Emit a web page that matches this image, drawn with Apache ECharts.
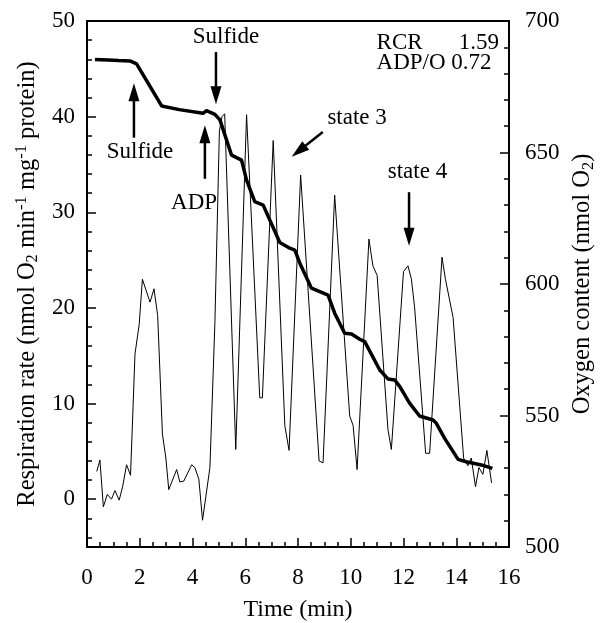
<!DOCTYPE html>
<html>
<head>
<meta charset="utf-8">
<script src="https://cdn.jsdelivr.net/npm/echarts@6/dist/echarts.min.js"></script>
<style>html,body{margin:0;padding:0;background:#fff}#c{width:603px;height:623px}</style>
</head>
<body>
<div id="c"></div>
<script>
// Respiration rate (left axis), nmol O2 min-1 mg-1 protein
const rateTime = [0.37,0.49,0.62,0.77,0.93,1.06,1.22,1.35,1.50,1.65,1.82,1.98,2.10,2.39,2.54,2.68,2.86,2.99,3.10,3.40,3.52,3.67,3.97,4.09,4.24,4.38,4.66,4.85,5.02,5.12,5.22,5.64,6.05,6.55,6.65,7.06,7.50,7.66,8.10,8.80,8.95,9.39,9.96,10.09,10.24,10.69,10.84,11.00,11.41,11.54,12.00,12.17,12.30,12.42,12.84,12.99,13.46,13.59,13.88,14.28,14.44,14.57,14.73,14.86,15.01,15.16,15.34];
const rateValue = [2.9,4.1,-0.8,0.5,0.0,0.9,-0.1,1.3,3.6,2.5,15.2,18.3,23.0,20.6,22.0,19.2,6.8,4.3,1.0,3.1,1.8,1.9,3.6,3.3,2.1,-2.2,3.3,18.5,38.5,40.0,40.3,5.2,40.2,10.6,10.6,37.5,7.7,5.1,33.9,4.0,3.8,31.8,8.7,7.7,3.1,27.2,24.4,23.4,7.3,5.2,23.8,24.4,23.0,20.1,4.8,4.8,25.3,23.0,19.0,4.3,3.5,4.3,1.3,3.3,2.6,5.1,1.7];
// Oxygen content (right axis), nmol O2
const oxyTime = [0.30,0.80,1.20,1.63,1.88,2.83,3.50,4.40,4.53,4.85,5.04,5.48,5.86,6.05,6.36,6.68,7.31,7.69,7.88,8.07,8.51,9.14,9.39,9.77,10.03,10.34,10.53,11.10,11.41,11.67,11.86,12.23,12.61,13.12,13.24,13.56,14.07,14.38,14.95,15.37];
const oxyValue = [685.4,685.2,685.0,684.8,683.7,667.7,666.3,664.9,665.9,664.5,662.4,649.0,647.1,639.5,631.3,630.0,615.8,613.6,612.9,607.9,598.4,595.8,588.9,581.3,581.0,579.0,578.1,567.3,563.9,563.5,561.0,554.7,549.8,548.3,547.1,541.3,533.3,532.4,531.2,529.9];
// Axis ticks
const xTicks = [0,2,4,6,8,10,12,14,16];
const xMinorTicks = [0.5,1,1.5,2.5,3,3.5,4.5,5,5.5,6.5,7,7.5,8.5,9,9.5,10.5,11,11.5,12.5,13,13.5,14.5,15,15.5];
const leftTicks = [0,10,20,30,40,50];
const leftMinorTicks = [-4,-2,2,4,6,8,12,14,16,18,22,24,26,28,32,34,36,38,42,44,46,48];
const rightTicks = [500,550,600,650,700];

const FONT = 'Liberation Serif';
const FS = 23;
const txt = {fontFamily: FONT, fontSize: FS, color: '#000'};
const titleTxt = {fontFamily: FONT, fontSize: 24.5, color: '#000'};

const chart = echarts.init(document.getElementById('c'), null, {renderer: 'canvas'});

function pairs(a, b) { return a.map((t, i) => [t, b[i]]); }

function lbl(x, y, text, align) {
  return {
    coord: [x, y], value: text,
    label: {show: true, formatter: text, position: 'inside', align: align || 'center', verticalAlign: 'middle', ...txt}
  };
}

chart.setOption({
  animation: false,
  backgroundColor: '#fff',
  grid: {left: 87, right: 94, top: 21, bottom: 76, show: true, borderColor: '#000', borderWidth: 2,
         containLabel: false, outerBoundsMode: 'none'},
  xAxis: [
    {
      type: 'value', min: 0, max: 16, interval: 2,
      name: 'Time (min)', nameLocation: 'middle', nameGap: 51, nameTextStyle: {...titleTxt, fontSize: 24},
      axisLine: {show: true, onZero: false, lineStyle: {color: '#000', width: 2}},
      axisTick: {show: true, inside: true, length: 9, customValues: xTicks, lineStyle: {color: '#000', width: 1.5}},
      axisLabel: {...txt, margin: 19, customValues: xTicks},
      splitLine: {show: false}
    },
    {
      type: 'value', min: 0, max: 16, interval: 2, position: 'bottom',
      axisLine: {show: false, onZero: false},
      axisTick: {show: true, inside: true, length: 5, customValues: xMinorTicks, lineStyle: {color: '#000', width: 1.5}},
      axisLabel: {show: false},
      splitLine: {show: false}
    }
  ],
  yAxis: [
    {
      type: 'value', min: -5, max: 50, interval: 5, position: 'left',
      name: 'Respiration rate (nmol O{sub|2} min{sup|-1} mg{sup|-1} protein)',
      nameLocation: 'middle', nameGap: 47, nameRotate: 90,
      nameTextStyle: {...titleTxt, padding: [0, 0, 0, 0], rich: {
        sub: {fontFamily: FONT, fontSize: 16.5, color: '#000', padding: [0, 0, -11, 0]},
        sup: {fontFamily: FONT, fontSize: 16.5, color: '#000', padding: [-11, 0, 0, 0]}
      }},
      axisLine: {show: true, onZero: false, lineStyle: {color: '#000', width: 2}},
      axisTick: {show: true, inside: true, length: 9, customValues: leftTicks, lineStyle: {color: '#000', width: 1.5}},
      axisLabel: {...txt, margin: 12, customValues: leftTicks},
      splitLine: {show: false}
    },
    {
      type: 'value', min: 500, max: 700, interval: 50, position: 'right',
      name: 'Oxygen content (nmol O{sub|2})',
      nameLocation: 'middle', nameGap: 60, nameRotate: 90,
      nameTextStyle: {...titleTxt, rich: {
        sub: {fontFamily: FONT, fontSize: 16.5, color: '#000', padding: [0, 0, -11, 0]}
      }},
      axisLine: {show: true, onZero: false, lineStyle: {color: '#000', width: 2}},
      axisTick: {show: true, inside: true, length: 9, lineStyle: {color: '#000', width: 1.5}},
      minorTick: {show: true, splitNumber: 5, length: 5, lineStyle: {color: '#000', width: 1.5}},
      axisLabel: {...txt, margin: 16, customValues: rightTicks},
      splitLine: {show: false}
    },
    {
      type: 'value', min: -5, max: 50, interval: 5, position: 'left',
      axisLine: {show: false, onZero: false},
      axisTick: {show: true, inside: true, length: 5, customValues: leftMinorTicks, lineStyle: {color: '#000', width: 1.5}},
      axisLabel: {show: false},
      splitLine: {show: false}
    }
  ],
  series: [
    {
      name: 'Respiration rate', type: 'line', xAxisIndex: 0, yAxisIndex: 0, symbol: 'none',
      lineStyle: {color: '#000', width: 1}, itemStyle: {color: '#000'}, z: 2,
      data: pairs(rateTime, rateValue),
      markPoint: {
        silent: true, symbol: 'circle', symbolSize: 1, itemStyle: {color: 'rgba(0,0,0,0)'},
        animation: false,
        data: [
          lbl(2.01, 36.3, 'Sulfide'),
          lbl(5.27, 48.3, 'Sulfide'),
          lbl(4.06, 31.0, 'ADP'),
          lbl(10.24, 39.9, 'state 3'),
          lbl(12.53, 34.2, 'state 4'),
          lbl(10.98, 47.7, 'RCR', 'left'),
          lbl(15.62, 47.7, '1.59', 'right'),
          lbl(10.98, 45.6, 'ADP/O 0.72', 'left')
        ]
      }
    },
    {
      name: 'Oxygen content', type: 'line', xAxisIndex: 0, yAxisIndex: 1, symbol: 'none',
      lineStyle: {color: '#000', width: 3.5}, itemStyle: {color: '#000'}, z: 3,
      data: pairs(oxyTime, oxyValue)
    }
  ]
});

// Annotation arrows: [tail] -> [tip], in (time, respiration rate) coordinates
const arrows = [
  [[1.78, 37.8], [1.78, 43.5]],
  [[4.89, 46.75], [4.89, 41.3]],
  [[4.47, 33.5], [4.47, 39.1]],
  [[8.94, 38.4], [7.76, 35.8]],
  [[12.21, 32.1], [12.21, 26.5]]
];
const headLen = 18, headHalf = 5.5;
const g = [];
arrows.forEach(a => {
  const p0 = chart.convertToPixel({xAxisIndex: 0, yAxisIndex: 0}, a[0]);
  const p1 = chart.convertToPixel({xAxisIndex: 0, yAxisIndex: 0}, a[1]);
  const dx = p1[0] - p0[0], dy = p1[1] - p0[1];
  const L = Math.hypot(dx, dy), ux = dx / L, uy = dy / L;
  const bx = p1[0] - ux * headLen, by = p1[1] - uy * headLen;
  g.push({type: 'line', silent: true, z: 10,
    shape: {x1: p0[0], y1: p0[1], x2: bx + ux * 2, y2: by + uy * 2},
    style: {stroke: '#000', lineWidth: 2.5}});
  g.push({type: 'polygon', silent: true, z: 10,
    shape: {points: [[p1[0], p1[1]], [bx - uy * headHalf, by + ux * headHalf], [bx + uy * headHalf, by - ux * headHalf]]},
    style: {fill: '#000'}});
});
chart.setOption({graphic: g});
</script>
</body>
</html>
